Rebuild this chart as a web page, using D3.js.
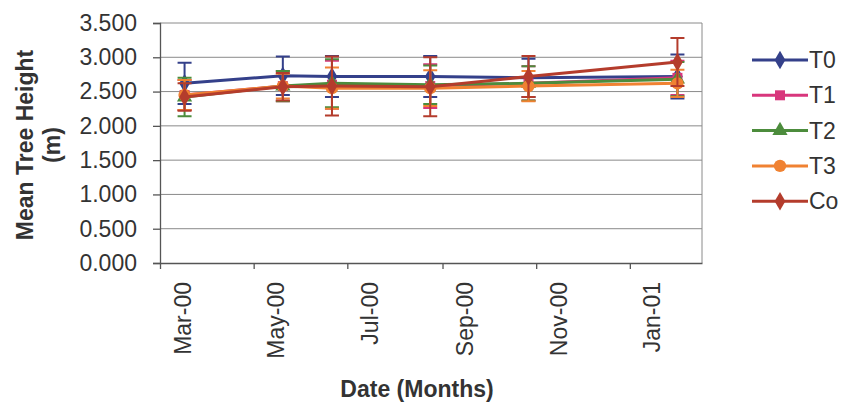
<!DOCTYPE html>
<html>
<head>
<meta charset="utf-8">
<script src="https://cdn.jsdelivr.net/npm/d3@7"></script>
<style>
  body { margin: 0; background: #fff; }
  text { font-family: "Liberation Sans", Arial, sans-serif; fill: #333; }
</style>
</head>
<body>
<script>
// sample dates
const dates = ["2000-03-17", "2000-05-20", "2000-06-21", "2000-08-24", "2000-10-27", "2001-02-01"];
const seriesNames = ["T0", "T1", "T2", "T3", "Co"];
const t0 = [2.62, 2.73, 2.72, 2.72, 2.70, 2.72];
const t1 = [2.45, 2.58, 2.60, 2.58, 2.62, 2.70];
const t2 = [2.42, 2.58, 2.62, 2.60, 2.62, 2.68];
const t3 = [2.45, 2.58, 2.55, 2.55, 2.58, 2.62];
const co = [2.42, 2.57, 2.58, 2.57, 2.72, 2.93];
// error bar half-widths
const t0Err = [0.30, 0.28, 0.30, 0.30, 0.28, 0.32];
const t1Err = [0.22, 0.22, 0.35, 0.32, 0.25, 0.25];
const t2Err = [0.28, 0.22, 0.35, 0.28, 0.25, 0.25];
const t3Err = [0.22, 0.18, 0.30, 0.26, 0.22, 0.20];
const coErr = [0.20, 0.20, 0.43, 0.43, 0.30, 0.35];
const yTicks = [0, 0.5, 1, 1.5, 2, 2.5, 3, 3.5];
const xTicks = ["2000-03-01", "2000-05-01", "2000-07-01", "2000-09-01", "2000-11-01", "2001-01-01"];

const parse = d3.timeParse("%Y-%m-%d");
const colors = ["#34408a", "#d8367c", "#4c8c3c", "#f08232", "#b43c2c"];
const symbols = [d3.symbolDiamond, d3.symbolSquare, d3.symbolTriangle, d3.symbolCircle, d3.symbolDiamond];
const values = [t0, t1, t2, t3, co];
const errs = [t0Err, t1Err, t2Err, t3Err, coErr];

const svg = d3.select("body").append("svg")
    .attr("width", 847)
    .attr("height", 404);

const plotLeft = 160, plotRight = 702, plotTop = 23, plotBottom = 263;
const fs = 23;

const x = d3.scaleTime()
    .domain([parse("2000-03-01"), parse("2001-02-17")])
    .range([plotLeft, plotRight]);
const y = d3.scaleLinear()
    .domain([0, 3.5])
    .range([plotBottom, plotTop]);

// gridlines
svg.append("g")
    .selectAll("line")
    .data(yTicks.slice(1))
    .join("line")
    .attr("x1", plotLeft).attr("x2", plotRight)
    .attr("y1", d => y(d)).attr("y2", d => y(d))
    .attr("stroke", "#8a8a8a")
    .attr("stroke-width", 1);

// right border
svg.append("line")
    .attr("x1", plotRight).attr("x2", plotRight)
    .attr("y1", plotTop).attr("y2", plotBottom)
    .attr("stroke", "#8a8a8a");

// y axis
const yAxis = svg.append("g")
    .attr("transform", `translate(${plotLeft},0)`)
    .call(d3.axisLeft(y).tickValues(yTicks).tickFormat(d3.format(".3f")).tickSize(7).tickPadding(16));
yAxis.selectAll("text").attr("font-size", fs).style("fill", "#333");
yAxis.selectAll("line, path").attr("stroke", "#555").attr("stroke-width", 1.3);

// x axis
const xAxis = svg.append("g")
    .attr("transform", `translate(0,${plotBottom})`)
    .call(d3.axisBottom(x).tickValues(xTicks.map(parse)).tickFormat(d3.timeFormat("%b-%y")).tickSize(6).tickSizeOuter(0));
xAxis.selectAll("line, path").attr("stroke", "#555").attr("stroke-width", 1.3);
xAxis.selectAll("text")
    .attr("font-size", fs)
    .style("fill", "#333")
    .attr("text-anchor", "end")
    .attr("transform", "rotate(-90)")
    .attr("x", -19)
    .attr("y", 22)
    .attr("dy", "0.35em");

// titles
svg.append("text")
    .attr("transform", "translate(33,145) rotate(-90)")
    .attr("text-anchor", "middle")
    .attr("font-size", fs)
    .attr("font-weight", "bold")
    .text("Mean Tree Height");
svg.append("text")
    .attr("transform", "translate(60,145) rotate(-90)")
    .attr("text-anchor", "middle")
    .attr("font-size", fs)
    .attr("font-weight", "bold")
    .text("(m)");
svg.append("text")
    .attr("x", 417)
    .attr("y", 397)
    .attr("text-anchor", "middle")
    .attr("font-size", fs)
    .attr("font-weight", "bold")
    .text("Date (Months)");

const line = d3.line()
    .x(d => x(d.date))
    .y(d => y(d.v));

seriesNames.forEach((name, i) => {
    const pts = dates.map((d, j) => ({ date: parse(d), v: values[i][j], e: errs[i][j] }));
    const g = svg.append("g");

    // error bars
    g.selectAll(".eb")
        .data(pts)
        .join("path")
        .attr("d", d => {
            const cx = x(d.date), y1 = y(d.v + d.e), y2 = y(d.v - d.e);
            return `M${cx},${y1}V${y2}M${cx - 7},${y1}H${cx + 7}M${cx - 7},${y2}H${cx + 7}`;
        })
        .attr("fill", "none")
        .attr("stroke", colors[i])
        .attr("stroke-width", 2);

    g.append("path")
        .datum(pts)
        .attr("d", line)
        .attr("fill", "none")
        .attr("stroke", colors[i])
        .attr("stroke-width", 3);

    g.selectAll(".mk")
        .data(pts)
        .join("path")
        .attr("transform", d => `translate(${x(d.date)},${y(d.v)})`)
        .attr("d", d3.symbol(symbols[i], i == 3 ? 120 : 100))
        .attr("fill", colors[i]);

    // legend
    const ly = 60 + i * 35.3;
    const lg = svg.append("g").attr("transform", `translate(0,${ly})`);
    lg.append("line")
        .attr("x1", 752).attr("x2", 808)
        .attr("stroke", colors[i])
        .attr("stroke-width", 3);
    lg.append("path")
        .attr("transform", "translate(780,0)")
        .attr("d", d3.symbol(symbols[i], i == 3 ? 120 : 100))
        .attr("fill", colors[i]);
    lg.append("text")
        .attr("x", 809)
        .attr("y", 0)
        .attr("dy", "0.35em")
        .attr("font-size", fs)
        .text(name);
});
</script>
</body>
</html>
